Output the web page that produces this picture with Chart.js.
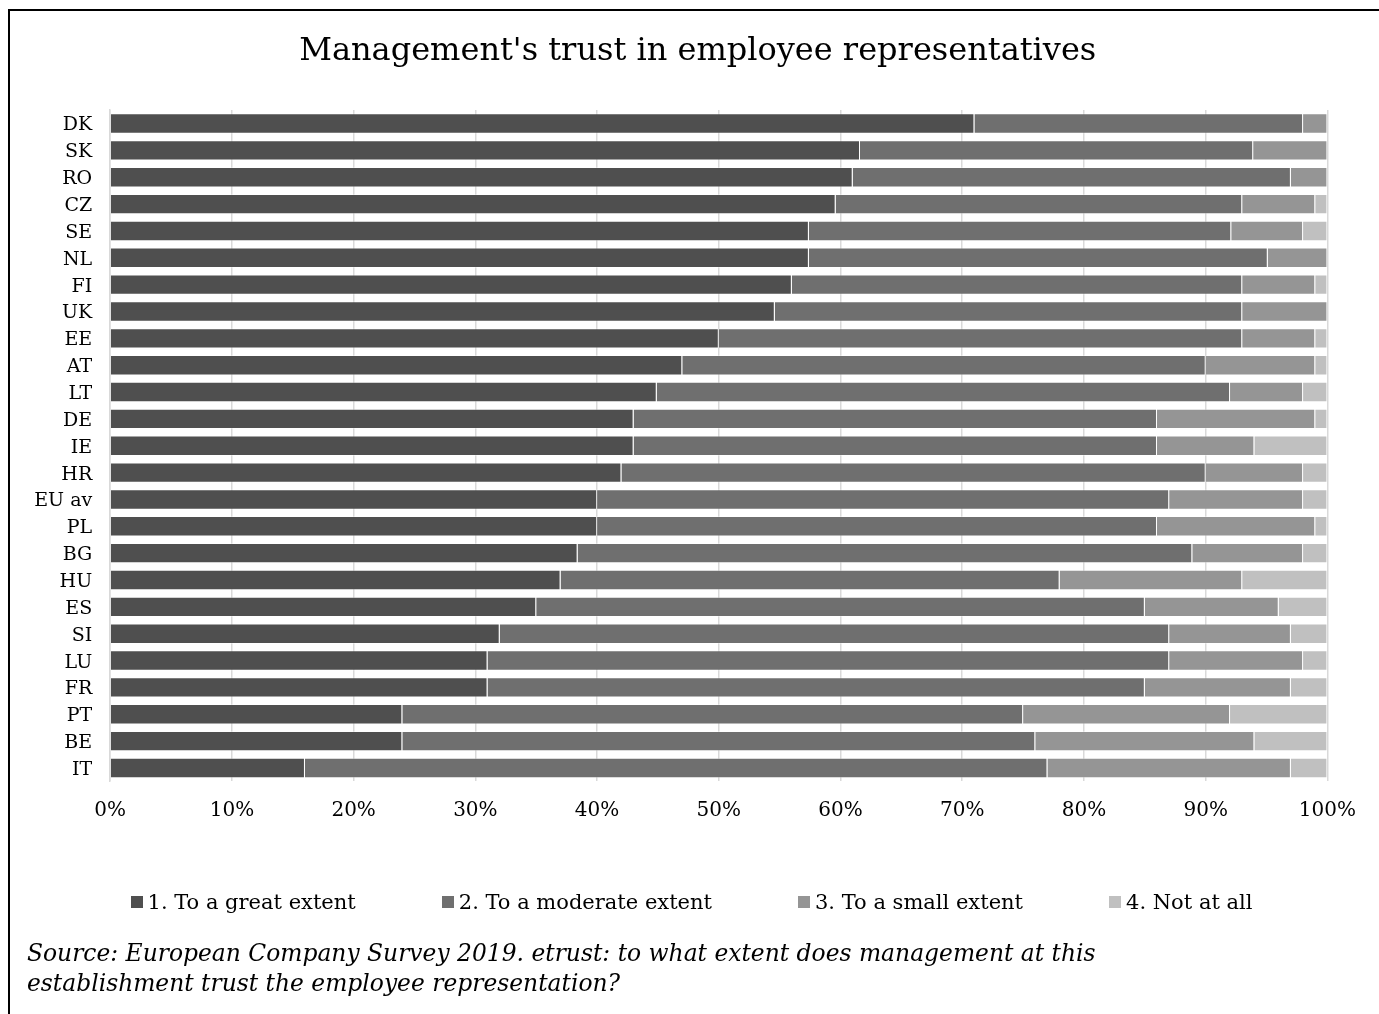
<!DOCTYPE html>
<html>
<head>
<meta charset="utf-8">
<title>Management's trust in employee representatives</title>
<script src="https://cdn.jsdelivr.net/npm/chart.js@4/dist/chart.umd.min.js"></script>
<style>
  html, body { margin: 0; padding: 0; background: #fff; }
  body { width: 1379px; height: 1014px; position: relative; overflow: hidden; font-family: 'DejaVu Serif', serif; }
  #frame { position: absolute; left: 8px; top: 9px; right: -10px; bottom: -10px;
           border-top: 2px solid #000; border-left: 2px solid #000; pointer-events: none; }
  #wrap { position: absolute; left: 0; top: 0; width: 1379px; height: 1014px; }
  #legend { position: absolute; left: 0; width: 1383px; top: 888px; display: flex; justify-content: center; gap: 86px;
            font-size: 21px; line-height: 28px; color: #000; }
  #legend .item { display: flex; align-items: center; white-space: nowrap; }
  #legend .box { width: 12px; height: 12px; margin-right: 5px; display: inline-block; }
  #note { position: absolute; left: 27px; top: 938px; font-size: 23.4px; line-height: 30px; font-style: italic; color: #000; white-space: nowrap; }
</style>
</head>
<body>
<div id="wrap"><canvas id="chart" width="1379" height="1014"></canvas></div>
<div id="frame"></div>
<div id="legend"></div>
<div id="note">Source: European Company Survey 2019. etrust: to what extent does management at this<br>establishment trust the employee representation?</div>
<script>
// Countries, ordered by share answering "to a great extent"
const categories = ['DK','SK','RO','CZ','SE','NL','FI','UK','EE','AT','LT','DE','IE','HR','EU av','PL','BG','HU','ES','SI','LU','FR','PT','BE','IT'];

// Shares of establishments (%) per answer
const greatExtent    = [71, 61.6, 61, 59.6, 57.4, 57.4, 56, 54.6, 50, 47, 44.9, 43, 43, 42, 40, 40, 38.4, 37, 35, 32, 31, 31, 24, 24, 16];
const moderateExtent = [27, 32.3, 36, 33.4, 34.7, 37.7, 37, 38.4, 43, 43, 47.1, 43, 43, 48, 47, 46, 50.5, 41, 50, 55, 56, 54, 51, 52, 61];
const smallExtent    = [2, 6.1, 3, 6, 5.9, 4.9, 6, 7, 6, 9, 6, 13, 8, 8, 11, 13, 9.1, 15, 11, 10, 11, 12, 17, 18, 20];
const notAtAll       = [0, 0, 0, 1, 2, 0, 1, 0, 1, 1, 2, 1, 6, 2, 2, 1, 2, 7, 4, 3, 2, 3, 8, 6, 3];

const seriesNames = ['1. To a great extent', '2. To a moderate extent', '3. To a small extent', '4. Not at all'];
const seriesColors = ['#4f4f4f', '#6f6f6f', '#959595', '#c0c0c0'];

// Percent axis tick values
const xTicks = [0, 10, 20, 30, 40, 50, 60, 70, 80, 90, 100];

const FONT = "'DejaVu Serif', serif";
const seriesValues = [greatExtent, moderateExtent, smallExtent, notAtAll];

const datasets = seriesValues.map((vals, i) => ({
  label: seriesNames[i],
  data: vals,
  backgroundColor: seriesColors[i],
  borderColor: 'rgba(255,255,255,0.35)',
  borderWidth: 1,
  barPercentage: 0.76,
  categoryPercentage: 1.0
}));

// Centre the title over the whole figure rather than over the padded box
const titleCentering = {
  id: 'titleCentering',
  afterLayout(chart) {
    const t = chart.titleBlock;
    if (t) { t.left = 68; }
  }
};

const chart = new Chart(document.getElementById('chart'), {
  type: 'bar',
  data: { labels: categories, datasets },
  plugins: [titleCentering],
  options: {
    indexAxis: 'y',
    responsive: false,
    animation: false,
    layout: { padding: { left: 0, right: 51.6, top: 0, bottom: 180 } },
    plugins: {
      legend: { display: false },
      tooltip: { enabled: false },
      title: {
        display: true,
        text: "Management's trust in employee representatives",
        color: '#000',
        font: { family: FONT, size: 32, weight: 'normal' },
        padding: { top: 32, bottom: 39.7 }
      }
    },
    scales: {
      x: {
        stacked: true,
        min: 0,
        max: 100,
        afterBuildTicks: (s) => { s.ticks = xTicks.map(v => ({ value: v })); },
        afterFit: (s) => { s.height = 52.6; },
        grid: { color: '#d9d9d9', lineWidth: 1.5, drawTicks: false },
        border: { display: false },
        ticks: {
          color: '#000',
          padding: 17,
          font: { family: FONT, size: 20 },
          callback: (v) => v + '%'
        }
      },
      y: {
        stacked: true,
        afterFit: (s) => { s.width = 110.2; },
        grid: { display: false, drawTicks: false },
        border: { display: true, color: '#d9d9d9', width: 1.5 },
        ticks: {
          color: '#000',
          padding: 18,
          labelOffset: 2,
          autoSkip: false,
          font: { family: FONT, size: 19 }
        }
      }
    }
  }
});

// Legend built from the chart's own datasets
const legendEl = document.getElementById('legend');
chart.data.datasets.forEach(ds => {
  const item = document.createElement('span');
  item.className = 'item';
  const box = document.createElement('span');
  box.className = 'box';
  box.style.background = ds.backgroundColor;
  const txt = document.createElement('span');
  txt.textContent = ds.label;
  item.appendChild(box);
  item.appendChild(txt);
  legendEl.appendChild(item);
});
</script>
</body>
</html>
